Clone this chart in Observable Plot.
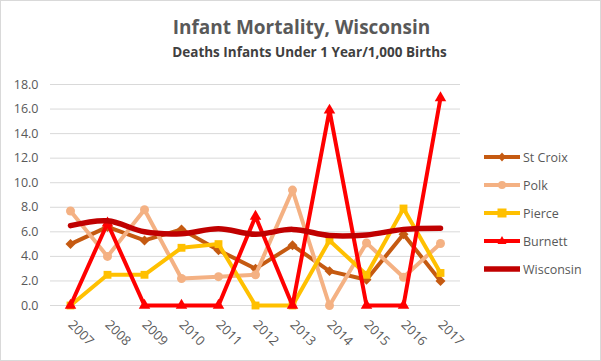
<!DOCTYPE html>
<html><head><meta charset="utf-8">
<script src="https://cdn.jsdelivr.net/npm/d3@7"></script>
<script src="https://cdn.jsdelivr.net/npm/@observablehq/plot@0.6"></script>
<style>
html,body{margin:0;padding:0;background:#fff;}
#wrap{position:relative;width:601px;height:361px;overflow:hidden;font-family:"Open Sans",sans-serif;}
#frame{position:absolute;left:0;top:0;width:599px;height:359px;border:1px solid #d9d9d9;box-sizing:content-box;pointer-events:none;}
#title{position:absolute;left:0;width:601px;top:14px;text-align:center;padding-left:2px;box-sizing:border-box;font-size:19px;font-weight:bold;color:#595959;}
#subtitle{position:absolute;left:0;width:601px;top:43px;text-align:center;padding-left:18px;box-sizing:border-box;font-size:13.5px;font-weight:bold;color:#404040;}
#legend{position:absolute;left:484px;top:143px;}
.li{height:28px;display:flex;align-items:center;font-size:12.5px;color:#595959;}
.li svg{margin-right:3px;}
</style></head>
<body><div id="wrap"><div id="chart"></div><div id="title">Infant Mortality, Wisconsin</div><div id="subtitle">Deaths Infants Under 1 Year/1,000 Births</div><div id="legend"></div><div id="frame"></div></div>
<script>
const years = [2007,2008,2009,2010,2011,2012,2013,2014,2015,2016,2017];
const stCroix   = [5.0,6.4,5.3,6.2,4.5,3.0,4.9,2.8,2.1,5.8,2.0];
const polk      = [7.7,4.0,7.8,2.2,2.35,2.5,9.4,0.0,5.1,2.3,5.05];
const pierce    = [0.0,2.5,2.5,4.7,5.0,0.0,0.0,5.3,2.5,7.9,2.65];
const burnett   = [0.0,6.7,0.0,0.0,0.0,7.25,0.0,15.9,0.0,0.0,16.9];
const wisconsin = [6.5,6.9,6.0,5.85,6.25,5.8,6.2,5.7,5.75,6.2,6.3];
const yTicks = [0,2,4,6,8,10,12,14,16,18];

const series = [
  {name:"St Croix", values:stCroix, color:"#C55A11", symbol:"diamond2", r:4.5, sw:4},
  {name:"Polk", values:polk, color:"#F4B183", symbol:"circle", r:4.5, sw:4},
  {name:"Pierce", values:pierce, color:"#FFC000", symbol:"square2", r:5, sw:4},
  {name:"Burnett", values:burnett, color:"#FF0000", symbol:"triangle2", r:5.5, sw:4},
  {name:"Wisconsin", values:wisconsin, color:"#C00000", symbol:null, r:0, sw:5.5}
];

const marks = [
  Plot.gridY(yTicks, {stroke:"#d9d9d9", strokeOpacity:1, strokeWidth:1}),
  Plot.axisY(yTicks, {tickFormat:d=>d.toFixed(1), tickSize:0, tickPadding:12, fontSize:12.5, fill:"#595959", label:null}),
  Plot.axisX(years, {tickFormat:d=>String(d), tickSize:0, tickRotate:45, tickPadding:17, fontSize:13, fill:"#595959", label:null, textAnchor:"start", dx:0})
];
for (const s of series) {
  const data = years.map((y,i)=>({year:y, value:s.values[i]}));
  marks.push(Plot.line(data, {x:"year", y:"value", stroke:s.color, strokeWidth:s.sw, curve: s.symbol ? "linear" : "catmull-rom"}));
  if (s.symbol) marks.push(Plot.dot(data, {x:"year", y:"value", fill:s.color, stroke:"none", symbol:s.symbol, r:s.r}));
}

const chart = Plot.plot({
  width:601, height:361,
  marginTop:84, marginBottom:56, marginLeft:50, marginRight:141,
  x:{domain:[2007,2017], inset:20, axis:null},
  y:{domain:[0,18], axis:null},
  style:{fontFamily:"Open Sans, sans-serif", background:"transparent"},
  marks
});
document.getElementById("chart").appendChild(chart);

const legend = document.getElementById("legend");
for (const s of series) {
  const row = document.createElement("div");
  row.className = "li";
  let marker = "";
  if (s.symbol === "diamond2") marker = `<path d="M18,3.5 L22,8 L18,12.5 L14,8Z" fill="${s.color}"/>`;
  if (s.symbol === "circle") marker = `<circle cx="18" cy="8" r="4" fill="${s.color}"/>`;
  if (s.symbol === "square2") marker = `<rect x="13.5" y="3.5" width="9" height="9" fill="${s.color}"/>`;
  if (s.symbol === "triangle2") marker = `<path d="M18,3 L22.5,11 L13.5,11Z" fill="${s.color}"/>`;
  row.innerHTML = `<svg width="36" height="16"><line x1="0" y1="8" x2="36" y2="8" stroke="${s.color}" stroke-width="${s.sw}"/>${marker}</svg><span>${s.name}</span>`;
  legend.appendChild(row);
}
</script></body></html>
